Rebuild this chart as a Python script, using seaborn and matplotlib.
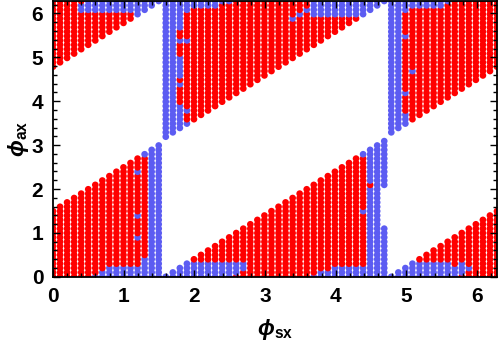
import numpy as np
import pandas as pd
import seaborn as sns
import matplotlib.pyplot as plt
from matplotlib.path import Path
from matplotlib.ticker import MultipleLocator

# scan grid: one point every 2pi/63 in both phases
n_steps = 63
two_pi = 2 * np.pi

# regions that hold points (phi_sx, phi_ax polygon vertices)
regions = [
    [(-0.05, -0.05), (1.54, -0.05), (1.54, 3.08), (-0.05, 1.49)],   # lower left
    [(-0.05, 4.67), (1.54, 6.26), (1.54, 6.4), (-0.05, 6.4)],       # upper left
    [(1.55, 3.12), (4.74, 6.31), (4.74, 6.4), (1.55, 6.4)],         # upper middle
    [(1.55, -0.05), (4.74, -0.05), (4.74, 3.17), (1.55, -0.02)],    # lower middle
    [(4.74, 3.17), (6.4, 4.83), (6.4, 6.4), (4.74, 6.4)],           # upper right
    [(4.74, -0.05), (6.4, -0.05), (6.4, 1.69), (4.74, 0.03)],       # lower right
]
# empty stretch inside a filled column (x0, x1, y0, y1)
holes = [(4.64, 4.74, 1.1, 2.0)]

# blue patches (x0, x1, y0, y1)
blue_ll = [(0.55, 0.65, -0.1, 0.05), (0.65, 0.75, -0.1, 0.15), (0.75, 1.25, -0.1, 0.25),
           (1.25, 1.35, -0.1, 0.45), (1.15, 1.25, 2.35, 2.45), (1.15, 1.25, 1.35, 1.45),
           (1.15, 1.25, 0.85, 0.95), (1.25, 1.35, 2.75, 2.9), (1.35, 1.55, -0.1, 3.2)]
blue_ul = [(0.35, 0.45, 6.03, 6.23), (0.45, 1.15, 6.03, 6.4), (1.15, 1.55, 5.5, 6.4)]
blue_um = [(1.55, 1.85, 3.0, 6.4), (1.85, 1.95, 6.03, 6.4), (1.85, 1.95, 3.4, 3.55),
           (1.85, 1.95, 3.75, 3.85), (1.85, 1.95, 5.35, 5.45), (1.95, 2.35, 6.13, 6.4),
           (2.35, 2.55, 6.23, 6.4), (3.35, 3.45, 5.83, 5.93), (3.45, 3.55, 5.93, 6.03),
           (3.55, 3.65, 6.03, 6.13), (3.65, 4.35, 5.93, 6.4), (4.35, 4.74, 5.5, 6.4)]
blue_lm = [(1.55, 1.95, -0.1, 0.5), (1.95, 2.55, -0.1, 0.35), (2.55, 2.65, 0.05, 0.35),
           (2.65, 2.75, 0.15, 0.35), (3.65, 3.75, -0.1, 0.05), (3.75, 3.95, -0.1, 0.15),
           (3.95, 4.45, -0.1, 0.25), (4.35, 4.45, 2.75, 2.85), (4.35, 4.45, 1.45, 1.55),
           (4.45, 4.74, -0.1, 3.2)]
blue_ur = [(4.74, 4.94, 3.0, 6.4), (4.94, 5.04, 6.03, 6.4), (4.94, 5.04, 5.43, 5.53),
           (4.94, 5.04, 4.14, 4.24), (4.94, 5.04, 3.4, 3.75), (5.04, 5.14, 6.13, 6.4),
           (5.04, 5.14, 4.64, 4.74), (5.14, 5.54, 6.13, 6.4), (5.54, 5.64, 6.23, 6.4)]
blue_lr = [(4.74, 5.14, -0.1, 0.5), (5.14, 5.64, -0.1, 0.35), (5.64, 5.74, -0.1, 0.25),
           (5.74, 5.84, 0.05, 0.35), (5.84, 5.94, 0.15, 0.25)]

# red spots inside blue patches
red_spots = [(1.75, 1.85, 5.44, 5.64), (1.75, 1.85, 5.24, 5.33), (1.75, 1.85, 5.04, 5.23),
             (1.75, 1.85, 4.44, 4.53), (1.75, 1.85, 4.14, 4.33), (1.75, 1.85, 3.94, 4.13),
             (4.44, 4.54, 2.05, 2.15)]

colors = {'red': '#ff0000', 'blue': '#5c5cf2'}


def in_boxes(px, py, boxes):
    hit = np.zeros(px.shape, dtype=bool)
    for x0, x1, y0, y1 in boxes:
        hit |= (px >= x0) & (px <= x1) & (py >= y0) & (py <= y1)
    return hit


phi = np.arange(n_steps + 1) * two_pi / n_steps
gx, gy = np.meshgrid(phi, phi)
gx, gy = gx.ravel(), gy.ravel()
pts = np.column_stack([gx, gy])

filled = np.zeros(gx.shape, dtype=bool)
for poly in regions:
    filled |= Path(poly).contains_points(pts)
filled &= ~in_boxes(gx, gy, holes)

blue = in_boxes(gx, gy, blue_ll + blue_ul + blue_um + blue_lm + blue_ur + blue_lr)
blue &= ~in_boxes(gx, gy, red_spots)

df = pd.DataFrame({'phi_sx': gx, 'phi_ax': gy,
                   'state': np.where(blue, 'blue', 'red')})[filled]

plt.rcParams['mathtext.fontset'] = 'custom'
plt.rcParams['mathtext.bf'] = 'Liberation Sans:bold'
plt.rcParams['font.family'] = ['Liberation Sans', 'DejaVu Sans']

fig = plt.figure(figsize=(5.0, 3.43), dpi=100)
ax = fig.add_axes([0.106, 0.193, 0.888, 0.804])

sns.scatterplot(data=df, x='phi_sx', y='phi_ax', hue='state', palette=colors,
                hue_order=['red', 'blue'], s=23, linewidth=0, marker='o',
                legend=False, ax=ax)

ax.set_xlim(0, two_pi)
ax.set_ylim(0, two_pi)
ax.xaxis.set_major_locator(MultipleLocator(1))
ax.yaxis.set_major_locator(MultipleLocator(1))
ax.xaxis.set_minor_locator(MultipleLocator(0.2))
ax.yaxis.set_minor_locator(MultipleLocator(0.2))
ax.tick_params(which='both', direction='in', top=True, right=True, width=1)
ax.tick_params(which='major', length=5, labelsize=15, pad=7)
ax.tick_params(which='minor', length=3)
for lab in ax.get_xticklabels() + ax.get_yticklabels():
    lab.set_fontweight('bold')
for sp in ax.spines.values():
    sp.set_linewidth(1.3)

ax.set_xlabel('ϕ$_{\\mathbf{sx}}$', fontsize=16, fontweight='bold', fontstyle='italic')
ax.set_ylabel('ϕ$_{\\mathbf{ax}}$', fontsize=16, fontweight='bold', fontstyle='italic')
ax.xaxis.set_label_coords(0.5, -0.145)
ax.yaxis.set_label_coords(-0.05, 0.5)

fig.savefig('out.png', dpi=100)
